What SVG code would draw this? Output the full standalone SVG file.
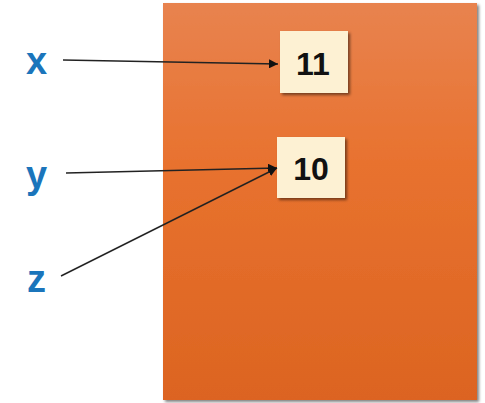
<svg xmlns="http://www.w3.org/2000/svg" width="485" height="403" viewBox="0 0 485 403">
<defs>
<linearGradient id="bg" x1="0" y1="0" x2="0" y2="1">
<stop offset="0" stop-color="#e8834f"/>
<stop offset="0.4" stop-color="#e8722f"/>
<stop offset="1" stop-color="#dc6421"/>
</linearGradient>
<filter id="sh" x="-10%" y="-10%" width="130%" height="130%">
<feGaussianBlur in="SourceAlpha" stdDeviation="1.5"/>
<feOffset dx="1.5" dy="2" result="b"/>
<feComponentTransfer><feFuncA type="linear" slope="0.5"/></feComponentTransfer>
<feMerge><feMergeNode/><feMergeNode in="SourceGraphic"/></feMerge>
</filter>
<marker id="arr" viewBox="0 0 10 10" refX="10" refY="5" markerWidth="9" markerHeight="9" markerUnits="userSpaceOnUse" orient="auto">
<path d="M0,0 L10,5 L0,10 z" fill="#111"/>
</marker>
</defs>
<style>
.lbl{font-family:"Liberation Sans",Arial,sans-serif;font-weight:bold;font-size:38px;fill:#1b75bb}
.val{font-family:"Liberation Sans",Arial,sans-serif;font-weight:bold;font-size:32px;fill:#111;text-anchor:middle}
.box{fill:#fdf1d3}
.conn{stroke:#222;stroke-width:1.4;fill:none;marker-end:url(#arr)}
</style>
<rect width="485" height="403" fill="#ffffff"/>
<g id="memory">
<rect x="163" y="3" width="314" height="397" fill="url(#bg)" filter="url(#sh)"/>
</g>
<g id="label-x"><text class="lbl" x="26" y="74">x</text></g>
<g id="label-y"><text class="lbl" x="26" y="188">y</text></g>
<g id="label-z"><text class="lbl" x="27" y="292">z</text></g>
<g id="value-11">
<rect class="box" x="280" y="31" width="68" height="62" filter="url(#sh)"/>
<text class="val" x="313" y="75">11</text>
</g>
<g id="value-10">
<rect class="box" x="277" y="137" width="68" height="61" filter="url(#sh)"/>
<text class="val" x="311" y="180">10</text>
</g>
<g id="connectors">
<line class="conn" x1="63" y1="60" x2="278" y2="64"/>
<line class="conn" x1="66" y1="173" x2="277" y2="168"/>
<line class="conn" x1="61" y1="276" x2="277" y2="168"/>
</g>
</svg>
